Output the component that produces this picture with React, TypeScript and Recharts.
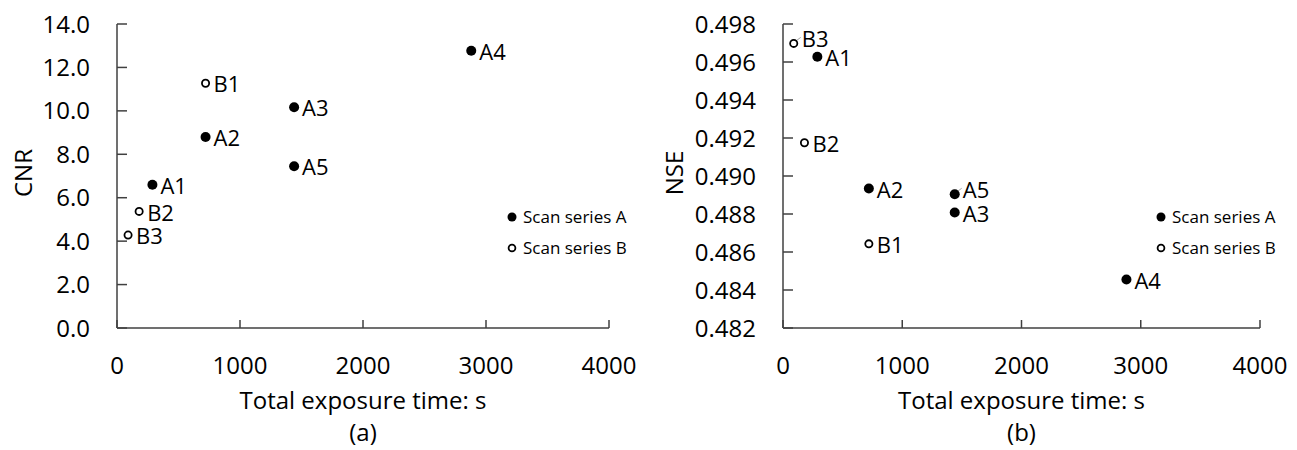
import React from 'react';
import { ScatterChart, Scatter, XAxis, YAxis, Legend } from 'recharts';

const FONT = '"Open Sans", sans-serif';
const AXIS = '#404040';

// Scan labels and total exposure times (s)
const namesA = ['A1', 'A2', 'A3', 'A4', 'A5'];
const namesB = ['B1', 'B2', 'B3'];
const timeA = [288, 720, 1440, 2880, 1440];
const timeB = [720, 180, 90];

// Contrast-to-noise ratio
const cnrA = [6.6, 8.8, 10.17, 12.77, 7.45];
const cnrB = [11.27, 5.37, 4.28];

// Normalised noise (NSE)
const nseA = [0.49628, 0.48934, 0.48808, 0.48455, 0.48904];
const nseB = [0.48643, 0.49175, 0.49698];

const timeTicks = [0, 1000, 2000, 3000, 4000];
const cnrTicks = [0, 2, 4, 6, 8, 10, 12, 14];
const nseTicks = [0.482, 0.484, 0.486, 0.488, 0.49, 0.492, 0.494, 0.496, 0.498];

const legendItems = [
  { name: 'Scan series A', filled: true },
  { name: 'Scan series B', filled: false },
];

const toPoints = (names: string[], xs: number[], ys: number[]) =>
  names.map((name, i) => ({ name, t: xs[i], v: ys[i] }));

// point marker + its scan label; some labels sit a bit higher with a small leader
const makeDot = (filled: boolean, raised: string[]) => (props: any) => {
  const { cx, cy, payload } = props;
  const up = raised.includes(payload.name);
  return (
    <g>
      {up && <line x1={cx + 3} y1={cy - 3} x2={cx + 7} y2={cy - 6} stroke="#a6a6a6" strokeWidth={1} />}
      {filled ? (
        <circle cx={cx} cy={cy} r={5} fill="#000" />
      ) : (
        <circle cx={cx} cy={cy} r={3.6} fill="#fff" stroke="#000" strokeWidth={1.8} />
      )}
      <text x={cx + 8} y={cy + (up ? 4 : 9.2)} fontFamily={FONT} fontSize={22} fill="#000">
        {payload.name}
      </text>
    </g>
  );
};

const XTick = (props: any) => {
  const { x, y, payload } = props;
  return (
    <g>
      <line x1={x} y1={y} x2={x} y2={y - 8} stroke={AXIS} strokeWidth={1.5} />
      <text x={x} y={y + 45.6} textAnchor="middle" fontFamily={FONT} fontSize={24} fill="#000">
        {payload.value}
      </text>
    </g>
  );
};

const makeYTick = (digits: number) => (props: any) => {
  const { x, y, payload } = props;
  return (
    <g>
      <line x1={x} y1={y} x2={x + 10} y2={y} stroke={AXIS} strokeWidth={1.5} />
      <text x={x - 27} y={y + 8.6} textAnchor="end" fontFamily={FONT} fontSize={24} fill="#000">
        {Number(payload.value).toFixed(digits)}
      </text>
    </g>
  );
};

const LegendBox = () => (
  <div style={{ fontFamily: FONT, fontSize: 17, color: '#000' }}>
    {legendItems.map(item => (
      <div key={item.name} style={{ display: 'flex', alignItems: 'center', height: 31, whiteSpace: 'nowrap' }}>
        <svg width={14} height={14}>
          {item.filled ? (
            <circle cx={7} cy={7} r={4.5} fill="#000" />
          ) : (
            <circle cx={7} cy={7} r={3.4} fill="#fff" stroke="#000" strokeWidth={1.8} />
          )}
        </svg>
        <span style={{ marginLeft: 4 }}>{item.name}</span>
      </div>
    ))}
  </div>
);

type PanelProps = {
  width: number;
  yWidth: number;
  rightMargin: number;
  yTitle: string;
  yTitleX: number;
  caption: string;
  yTicks: number[];
  digits: number;
  seriesA: { name: string; t: number; v: number }[];
  seriesB: { name: string; t: number; v: number }[];
  raised: string[];
  legendLeft: number;
};

const Panel = (p: PanelProps) => (
  <ScatterChart width={p.width} height={450} margin={{ top: 24, right: p.rightMargin, bottom: 0, left: 0 }}>
    <XAxis
      type="number"
      dataKey="t"
      domain={[0, 4000]}
      ticks={timeTicks}
      interval={0}
      height={122}
      tickSize={0}
      tickMargin={0}
      tickLine={false}
      axisLine={{ stroke: AXIS, strokeWidth: 1.5 }}
      tick={<XTick />}
      label={(lp: any) => {
        const vb = lp.viewBox;
        const cx = vb.x + vb.width / 2;
        return (
          <g>
            <text x={cx} y={vb.y + 81} textAnchor="middle" fontFamily={FONT} fontSize={24} fill="#000">
              Total exposure time: s
            </text>
            <text x={cx} y={vb.y + 113} textAnchor="middle" fontFamily={FONT} fontSize={24} fill="#000">
              {p.caption}
            </text>
          </g>
        );
      }}
    />
    <YAxis
      type="number"
      dataKey="v"
      domain={[p.yTicks[0], p.yTicks[p.yTicks.length - 1]]}
      ticks={p.yTicks}
      interval={0}
      width={p.yWidth}
      tickSize={0}
      tickMargin={0}
      tickLine={false}
      axisLine={{ stroke: AXIS, strokeWidth: 1.5 }}
      tick={makeYTick(p.digits)}
      label={(lp: any) => {
        const vb = lp.viewBox;
        const cy = vb.y + vb.height / 2 - 3;
        return (
          <text
            x={p.yTitleX}
            y={cy}
            dy="0.357em"
            textAnchor="middle"
            transform={`rotate(-90 ${p.yTitleX} ${cy})`}
            fontFamily={FONT}
            fontSize={24}
            fill="#000"
          >
            {p.yTitle}
          </text>
        );
      }}
    />
    <Legend
      layout="vertical"
      align="center"
      verticalAlign="middle"
      wrapperStyle={{ left: p.legendLeft, top: 201, width: 150 }}
      content={() => <LegendBox />}
    />
    <Scatter name="Scan series A" data={p.seriesA} shape={makeDot(true, p.raised)} isAnimationActive={false} />
    <Scatter name="Scan series B" data={p.seriesB} shape={makeDot(false, p.raised)} isAnimationActive={false} />
  </ScatterChart>
);

const App = () => (
  <div style={{ position: 'absolute', left: 0, top: 0, width: 1297, height: 450, display: 'flex', background: '#fff' }}>
    <Panel
      width={648}
      yWidth={117}
      rightMargin={39}
      yTitle="CNR"
      yTitleX={23}
      caption="(a)"
      yTicks={cnrTicks}
      digits={1}
      seriesA={toPoints(namesA, timeA, cnrA)}
      seriesB={toPoints(namesB, timeB, cnrB)}
      raised={[]}
      legendLeft={505}
    />
    <Panel
      width={649}
      yWidth={135}
      rightMargin={37}
      yTitle="NSE"
      yTitleX={26}
      caption="(b)"
      yTicks={nseTicks}
      digits={3}
      seriesA={toPoints(namesA, timeA, nseA)}
      seriesB={toPoints(namesB, timeB, nseB)}
      raised={['B3', 'A5']}
      legendLeft={506}
    />
  </div>
);

export default App;
